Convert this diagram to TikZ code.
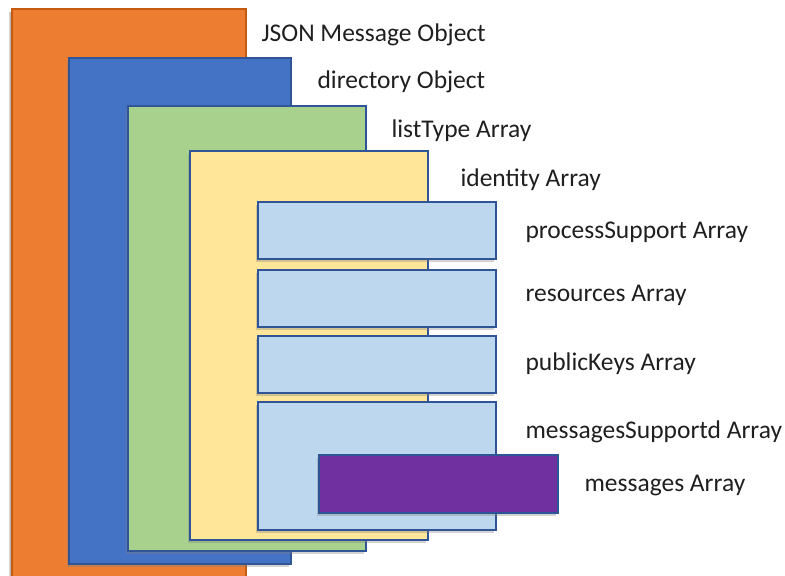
\documentclass[tikz,border=0pt]{standalone}
\usepackage{fontspec}
\setmainfont{Carlito}
\usetikzlibrary{shadows}
\definecolor{cOrange}{HTML}{ED7D31}
\definecolor{cOrangeB}{HTML}{C55A11}
\definecolor{cBlue}{HTML}{4472C4}
\definecolor{cGreen}{HTML}{A9D18E}
\definecolor{cYellow}{HTML}{FFE699}
\definecolor{cLight}{HTML}{BDD7EE}
\definecolor{cPurple}{HTML}{7030A0}
\definecolor{cEdge}{HTML}{2F5597}
\tikzset{
  layer/.style={draw=cEdge, line width=1.5pt, drop shadow={shadow xshift=-2.5pt, shadow yshift=-3pt, opacity=0.35}},
  lbl/.style={anchor=west, font=\fontsize{25.5}{28}\selectfont, text=black!88}
}
\begin{document}
\begin{tikzpicture}[x=1pt,y=-1pt]
\useasboundingbox (0,0) rectangle (785,576);
\fill[black,opacity=0.15] (9,12) rectangle (243,579);
\path[layer, fill=cOrange, draw=cOrangeB] (12,9) rectangle (246,580);
\path[layer, fill=cBlue] (69,58) rectangle (291,564);
\path[layer, fill=cGreen] (128,106) rectangle (366,551);
\path[layer, fill=cYellow] (190,151) rectangle (428,540);
\path[layer, fill=cLight] (258,202) rectangle (496,259);
\path[layer, fill=cLight] (258,270) rectangle (496,327);
\path[layer, fill=cLight] (258,336) rectangle (496,393);
\path[layer, fill=cLight] (258,402) rectangle (496,530);
\path[layer, fill=cPurple] (319,455) rectangle (558,513);
\node[lbl] (t1) at (258,35) {JSON Message Object};
\node[lbl] (t2) at (314,82) {directory Object};
\node[lbl] (t3) at (388,131) {listType Array};
\node[lbl] (t4) at (457,180) {identity Array};
\node[lbl] (t5) at (522,232) {processSupport Array};
\node[lbl] (t6) at (522,295) {resources Array};
\node[lbl] (t7) at (522,364) {publicKeys Array};
\node[lbl] (t8) at (522,432) {messagesSupportd Array};
\node[lbl] (t9) at (581,486) {messages Array};
\end{tikzpicture}
\end{document}
